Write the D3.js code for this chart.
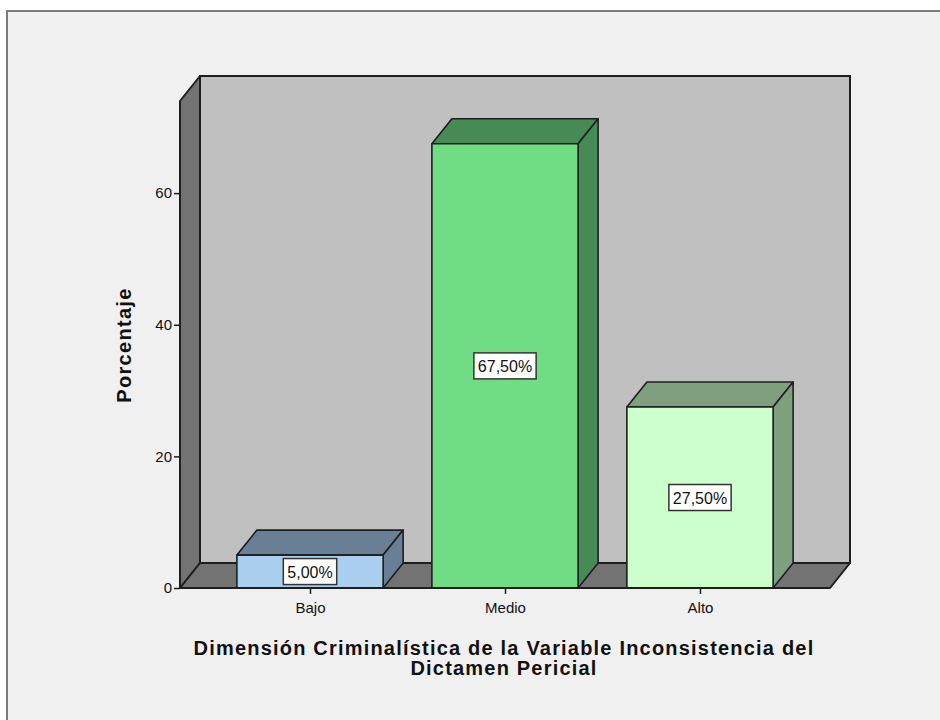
<!DOCTYPE html>
<html><head><meta charset="utf-8">
<script src="https://cdn.jsdelivr.net/npm/d3@7"></script>
<style>html,body{margin:0;padding:0;background:#fff;}svg{display:block;}</style>
</head><body>
<script>
const categories = ["Bajo", "Medio", "Alto"];
const percentValues = [5.0, 67.5, 27.5];
const valueLabels = ["5,00%", "67,50%", "27,50%"];
const yTickValues = [0, 20, 40, 60];
const yAxisTitle = "Porcentaje";
const xAxisTitleLines = ["Dimensión Criminalística de la Variable Inconsistencia del", "Dictamen Pericial"];

const frontColors = ["#aacfee", "#70dc84", "#ccffcc"];
const darkColors = ["#687f96", "#468a55", "#7fa07f"];

(function () {
const W = 940, H = 720;
const svg = d3.select("body").append("svg").attr("width", W).attr("height", H);
svg.append("rect").attr("x", 7).attr("y", 11).attr("width", W).attr("height", H).attr("fill", "#f0f0f0")
  .attr("stroke", "#7a7a7a").attr("stroke-width", 2);

const left = 180, right = 830, bottom = 588;
const dx = 20, dy = 25;
const y = d3.scaleLinear().domain([0, 74]).range([bottom, 101]);
const x = d3.scalePoint().domain(categories).range([left, right]).padding(0.6667);
const barW = x.step() * 0.75;
const yTop = y(74);
const stroke = "#1e1e1e";
const font = "Arial, 'Liberation Sans', sans-serif";

svg.append("rect").attr("x", left + dx).attr("y", yTop - dy).attr("width", right - left).attr("height", bottom - yTop)
  .attr("fill", "#c0c0c0").attr("stroke", stroke).attr("stroke-width", 2);
svg.append("path").attr("d", `M${left},${yTop}L${left+dx},${yTop-dy}L${left+dx},${bottom-dy}L${left},${bottom}Z`)
  .attr("fill", "#737373").attr("stroke", stroke).attr("stroke-width", 2).attr("stroke-linejoin", "round");
svg.append("path").attr("d", `M${left},${bottom}L${left+dx},${bottom-dy}L${right+dx},${bottom-dy}L${right},${bottom}Z`)
  .attr("fill", "#737373").attr("stroke", stroke).attr("stroke-width", 2).attr("stroke-linejoin", "round");

const g = svg.append("g");
categories.forEach((c, i) => {
  const x0 = x(c) - barW / 2, x1 = x(c) + barW / 2;
  const yt = y(percentValues[i]);
  const bg = g.append("g").attr("stroke", stroke).attr("stroke-width", 1.6).attr("stroke-linejoin", "round");
  bg.append("path").attr("d", `M${x0},${yt}L${x0+dx},${yt-dy}L${x1+dx},${yt-dy}L${x1},${yt}Z`).attr("fill", darkColors[i]);
  bg.append("path").attr("d", `M${x1},${yt}L${x1+dx},${yt-dy}L${x1+dx},${bottom-dy}L${x1},${bottom}Z`).attr("fill", darkColors[i]);
  bg.append("rect").attr("x", x0).attr("y", yt).attr("width", barW).attr("height", bottom - yt).attr("fill", frontColors[i]);
});
categories.forEach((c, i) => {
  const yt = y(percentValues[i]);
  const cy = (yt + bottom) / 2;
  const t = svg.append("text").attr("x", x(c)).attr("y", cy + 6).attr("text-anchor", "middle")
    .attr("font-family", font).attr("font-size", 16).attr("fill", "#111").text(valueLabels[i]);
  const bb = t.node().getBBox();
  svg.insert("rect", () => t.node()).attr("x", x(c) - bb.width / 2 - 4).attr("y", cy - 13).attr("width", bb.width + 8).attr("height", 26)
    .attr("fill", "#fff").attr("stroke", "#333").attr("stroke-width", 1.5);
});

const yAxis = d3.axisLeft(y).tickValues(yTickValues).tickSize(6).tickPadding(2);
const ya = svg.append("g").attr("transform", `translate(${left},0)`).call(yAxis);
ya.select(".domain").attr("stroke", stroke).attr("stroke-width", 2).attr("d", `M0,${yTop}V${bottom}`);
ya.selectAll(".tick line").attr("stroke", stroke).attr("stroke-width", 1.5);
ya.selectAll(".tick text").attr("font-family", font).attr("font-size", 15).attr("fill", "#111");

const xAxis = d3.axisBottom(x).tickSize(6).tickPadding(8);
const xa = svg.append("g").attr("transform", `translate(0,${bottom})`).call(xAxis);
xa.select(".domain").attr("stroke", stroke).attr("stroke-width", 2).attr("d", `M${left},0H${right}`);
xa.selectAll(".tick line").attr("stroke", stroke).attr("stroke-width", 1.5);
xa.selectAll(".tick text").attr("font-family", font).attr("font-size", 15).attr("fill", "#111");

svg.append("text").attr("transform", `translate(131,345) rotate(-90)`).attr("text-anchor", "middle")
  .attr("font-family", font).attr("font-weight", "bold").attr("font-size", 20)
  .attr("letter-spacing", 1.3).attr("fill", "#111").text(yAxisTitle);

xAxisTitleLines.forEach((l, i) => {
  svg.append("text").attr("x", 504).attr("y", 655 + i * 20).attr("text-anchor", "middle")
    .attr("font-family", font).attr("font-weight", "bold").attr("font-size", 20)
    .attr("letter-spacing", 1.2).attr("fill", "#111").text(l);
});
})();
</script>
</body></html>
